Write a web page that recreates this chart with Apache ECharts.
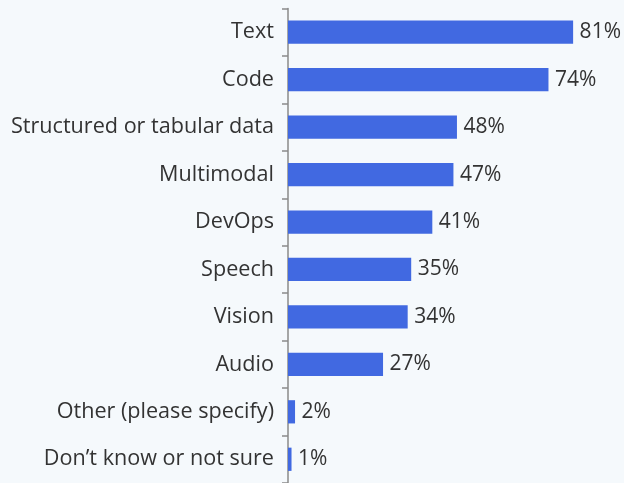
<!DOCTYPE html>
<html>
<head>
<meta charset="utf-8">
<script src="https://cdn.jsdelivr.net/npm/echarts@6/dist/echarts.min.js"></script>
<style>
  html, body { margin: 0; padding: 0; background: #f5f9fc; }
  #chart { width: 624px; height: 483px; }
</style>
</head>
<body>
<div id="chart"></div>
<script>
// Share of respondents by data type (percent)
const categories = [
  'Text',
  'Code',
  'Structured or tabular data',
  'Multimodal',
  'DevOps',
  'Speech',
  'Vision',
  'Audio',
  'Other (please specify)',
  'Don\u2019t know or not sure'
];
const values = [81, 74, 48, 47, 41, 35, 34, 27, 2, 1];

const chart = echarts.init(document.getElementById('chart'), null, { renderer: 'canvas' });

chart.setOption({
  backgroundColor: '#f5f9fc',
  animation: false,
  grid: { left: 288, width: 316.8, top: 8.5, height: 477, containLabel: false },
  xAxis: {
    type: 'value',
    min: 0,
    max: 90,
    show: false
  },
  yAxis: {
    type: 'category',
    data: categories,
    inverse: true,
    axisLine: { show: true, lineStyle: { color: '#8a8a8a', width: 1.5 } },
    axisTick: { show: true, length: 6, lineStyle: { color: '#8a8a8a', width: 1.5 } },
    axisLabel: {
      margin: 14,
      color: '#333333',
      fontFamily: 'Open Sans',
      fontSize: 21.6
    },
    splitLine: { show: false }
  },
  series: [{
    type: 'bar',
    data: values,
    barWidth: '49%',
    itemStyle: { color: '#4169e1' },
    label: {
      show: true,
      position: 'right',
      distance: 6.5,
      formatter: '{c}%',
      color: '#333333',
      fontFamily: 'Open Sans',
      fontSize: 21
    }
  }]
});
</script>
</body>
</html>
